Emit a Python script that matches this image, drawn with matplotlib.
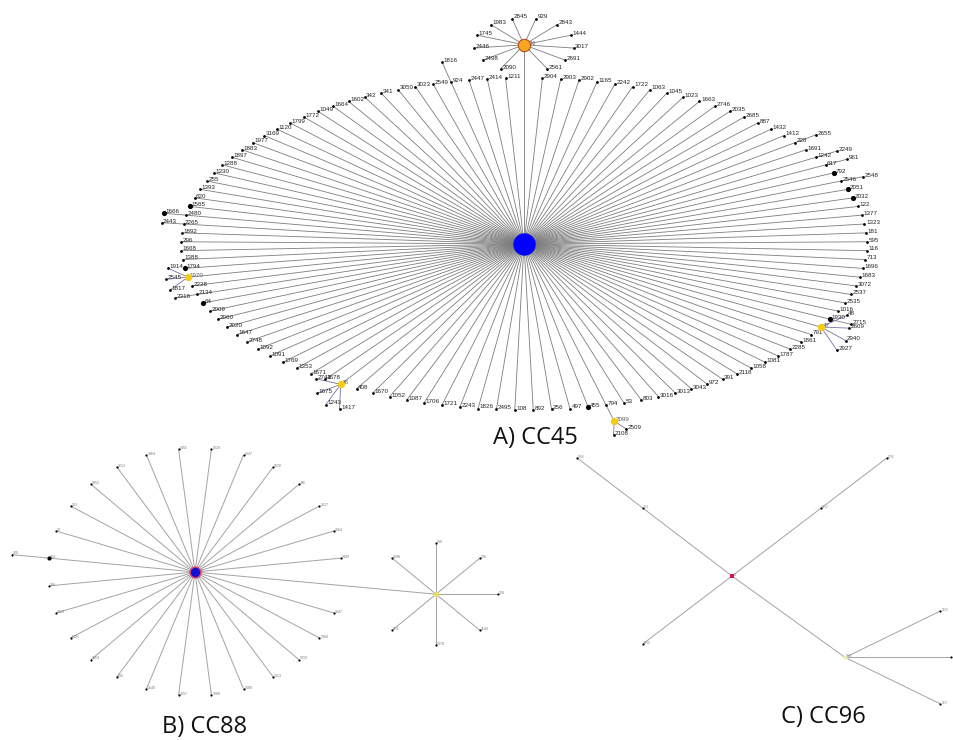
import numpy as np
import matplotlib.pyplot as plt
from matplotlib.collections import LineCollection

# ---- CC45: founder leaves, clockwise from the top (None = link to upper star)
cc45_leaves = [None, "2904", "2903", "2902", "1165", "2242", "1722", "1063", "1045",
               "1023", "1663", "2746", "2035", "2685", "887", "1432", "1412", "228",
               "1691", "1242", "617", "792", "2546", "2051", "2032", "122", "1377",
               "1323", "181", "595", "116", "713", "1696", "1683", "3072", "2537",
               "2535", "1016", "1930", "47", "791", "1861", "2285", "1787", "1081",
               "1058", "2118", "391", "972", "3043", "3013", "3016", "803", "53",
               "794", "455", "497", "256", "892", "108", "2495", "1826", "2243",
               "1721", "1706", "1087", "1052", "1670", "408", "46", "1678", "1671",
               "1353", "1769", "1091", "1092", "2748", "1647", "2020", "2060", "2009",
               "64", "2134", "2228", "1970", "1794", "1388", "1668", "296", "1892",
               "2265", "2480", "1565", "620", "1393", "255", "1330", "1288", "1897",
               "1883", "1977", "3169", "1120", "1799", "1772", "1049", "1664", "1602",
               "342", "341", "3050", "3023", "2549", "924", "2447", "2414", "1211"]
cc45_big = ["1666", "1565", "64", "1794", "792", "2051", "2032", "1930", "455"]
# child -> parent, drawn as a short extension outwards
cc45_chain = {"2655": "228", "2249": "1242", "961": "617", "2548": "2546",
              "1816": "924", "1666": "2480", "2443": "2265", "2715": "1930",
              "2316": "2134", "2099": "794"}
# yellow sub-founders and their leaves
cc45_fans = {"47": ["48", "2609", "2940", "2927"],
             "46": ["1417", "1243", "1675", "2741"],
             "1970": ["1817", "2545", "1914"],
             "2099": ["2509", "2108"]}
# upper (orange) star, clockwise from top (None = link down to founder)
cc45_top = ["929", "2843", "1444", "3017", "2691", "2561", None, "2090", "2498",
            "2446", "1745", "1983", "2845"]

# ---- CC88
cc88_leaves = ["1629", "2647", "1620", "446", "2627", "2564", "1449", None, "2647",
               "1360", "1219", "1313", "1589", "1289", "2157", "2149", "635", "2564",
               "1491", "2569", "226", "464", "32", "153", "1952", "2613", "1464", "1455"]
cc88_chain = {"229": "464"}
cc88_sub = ["150", "126", "128", "1140", "1279", "974", None, "2698"]

# ---- CC96
cc96_arms = ["1952", "2986", "2980", "174"]
cc96_chain = {"2030": "1952", "2588": "174"}
cc96_fan = ["2109", "2978", "2937"]

fig = plt.figure(figsize=(9.54, 7.40), dpi=100)
ax = fig.add_axes([0, 0, 1, 1])
ax.set_xlim(0, 954)
ax.set_ylim(740, 0)
ax.axis('off')


def ring(cx, cy, rx, ry, n, start):
    a = np.deg2rad(start - np.arange(n) * 360.0 / n)
    return cx + rx * np.cos(a), cy - ry * np.sin(a)


def outward(p, c, length):
    d = np.hypot(p[0] - c[0], p[1] - c[1])
    return (p[0] + (p[0] - c[0]) / d * length, p[1] + (p[1] - c[1]) / d * length)


def fan(p, c, n, length, spread, base=None):
    if base is None:
        base = np.degrees(np.arctan2(p[1] - c[1], p[0] - c[0]))
    angs = np.deg2rad(np.linspace(base - spread, base + spread, n))
    return [(p[0] + length * np.cos(a), p[1] + length * np.sin(a)) for a in angs]


def label(p, s, fs, color='#222222', dx=1.5):
    if p[0] > 948:
        return  # off the canvas in the original
    ax.text(p[0] + dx, p[1] + 0.8, s, fontsize=fs, color=color, ha='left',
            va='bottom', family='Liberation Sans')


# ================= CC45 =================
hub45 = (524, 244)
pos = {}
xs, ys = ring(hub45[0], hub45[1], 343, 166, len(cc45_leaves), 90)
for nm, x, y in zip(cc45_leaves, xs, ys):
    if nm is not None:
        pos[nm] = (x, y)
top_hub = (hub45[0], hub45[1] - 166 * 1.2)

segs45 = [[hub45, top_hub]] + [[hub45, pos[n]] for n in cc45_leaves if n]
for child, par in cc45_chain.items():
    pos[child] = outward(pos[par], hub45, 22 if child != "2099" else 18)
    segs45.append([pos[par], pos[child]])
fan_segs = []
fan_len = {"47": 28, "46": 25, "1970": 22, "2099": 14}
fan_spr = {"47": 40, "46": 50, "1970": 30, "2099": 30}
for par, kids in cc45_fans.items():
    pts = fan(pos[par], hub45, len(kids), fan_len[par], fan_spr[par])
    for k, p in zip(kids, pts):
        pos[k] = p
        fan_segs.append([pos[par], p])

txs, tys = ring(top_hub[0], top_hub[1], 50, 27, len(cc45_top), 76.15)
top_pos = {}
for nm, x, y in zip(cc45_top, txs, tys):
    if nm is not None:
        top_pos[nm] = (x, y)
        segs45.append([top_hub, (x, y)])

ax.add_collection(LineCollection(segs45, colors='#7d7d7d', linewidths=0.6, zorder=1))
ax.add_collection(LineCollection(fan_segs, colors='#7a70a8', linewidths=0.6, zorder=1))

subs = list(cc45_fans.keys())
for nm, p in pos.items():
    if nm in subs:
        continue
    size = 14 if nm in cc45_big else 4
    ax.scatter(*p, s=size, c='black', zorder=3, linewidths=0)
    label(p, nm, 4.5)
for nm in subs:
    ax.scatter(*pos[nm], s=28, c='#f2cc16', zorder=4, linewidths=0)
    label(pos[nm], nm, 4.5, color='#5a5a5a')
for nm, p in top_pos.items():
    ax.scatter(*p, s=4, c='black', zorder=3, linewidths=0)
    label(p, nm, 4.5)
ax.scatter(*top_hub, s=80, c='#f7a520', edgecolors='#b0502a', linewidths=0.8, zorder=4)
label(top_hub, "230", 3.5, color='#555555', dx=4)
ax.scatter(*hub45, s=260, c='#0000ff', zorder=5, linewidths=0)
label(hub45, "45", 3.5, color='#555555', dx=8)

# ================= CC88 =================
hub88 = (195, 572)
segs88 = []
xs, ys = ring(hub88[0], hub88[1], 147, 124, len(cc88_leaves), 90 - 180.0 / len(cc88_leaves))
pos88 = {}
sub88 = None
for nm, x, y in zip(cc88_leaves, xs, ys):
    if nm is None:
        sub88 = (hub88[0] + (x - hub88[0]) * 1.65, hub88[1] + (y - hub88[1]) * 1.6)
        segs88.append([hub88, sub88])
    else:
        segs88.append([hub88, (x, y)])
        ax.scatter(x, y, s=2.5, c='black', zorder=3, linewidths=0)
        label((x, y), nm, 2.6, color='#777777', dx=1)
        pos88[nm] = (x, y)
for child, par in cc88_chain.items():
    p = outward(pos88[par], hub88, 37)
    segs88.append([pos88[par], p])
    ax.scatter(*p, s=2.5, c='black', zorder=3, linewidths=0)
    label(p, child, 2.6, color='#777777', dx=1)
ax.scatter(*pos88["464"], s=9, c='black', zorder=3, linewidths=0)
sxs, sys_ = ring(sub88[0], sub88[1], 62, 51, len(cc88_sub), 90)
for nm, x, y in zip(cc88_sub, sxs, sys_):
    if nm is None:
        continue
    segs88.append([sub88, (x, y)])
    ax.scatter(x, y, s=2.5, c='black', zorder=3, linewidths=0)
    label((x, y), nm, 2.6, color='#777777', dx=1)
ax.add_collection(LineCollection(segs88, colors='#a3a3a3', linewidths=0.7, zorder=1))
ax.scatter(*hub88, s=60, c='#1010d0', edgecolors='#e0406a', linewidths=1.0, zorder=4)
label(hub88, "88", 2.6, color='#777777', dx=5)
ax.scatter(*sub88, s=14, c='#e9dc60', zorder=4, linewidths=0)

# ================= CC96 =================
hub96 = (732, 576)
segs96 = []
axs, ays = ring(hub96[0], hub96[1], 126, 96, len(cc96_arms), 45)
pos96 = {}
for nm, x, y in zip(cc96_arms, axs, ays):
    p = (x, y)
    if nm == "2986":
        p = (hub96[0] + (x - hub96[0]) * 1.27, hub96[1] + (y - hub96[1]) * 1.2)
    pos96[nm] = p
    segs96.append([hub96, p])
for child, par in cc96_chain.items():
    p = outward(pos96[par], hub96, 83)
    pos96[child] = p
    segs96.append([pos96[par], p])
for nm, p in zip(cc96_fan, fan(pos96["2986"], hub96, 3, 106, 26, base=0)):
    pos96[nm] = p
    segs96.append([pos96["2986"], p])
ax.add_collection(LineCollection(segs96, colors='#a3a3a3', linewidths=0.7, zorder=1))
for nm, p in pos96.items():
    if nm == "2986":
        ax.scatter(*p, s=10, c='#f0ecb0', zorder=4, linewidths=0)
    else:
        ax.scatter(*p, s=2.5, c='black', zorder=3, linewidths=0)
    label(p, nm, 2.2, color='#888888', dx=1)
ax.scatter(*hub96, s=12, c='#d6154a', marker='s', zorder=4, linewidths=0)
label(hub96, "96", 2.2, color='#888888', dx=2)

# ================= titles =================
for txt, xy in [("A) CC45", (535, 438)), ("B) CC88", (205, 727)), ("C) CC96", (823, 717))]:
    ax.text(xy[0], xy[1], txt, fontsize=17, family='Open Sans', ha='center',
            va='center', color='#111111')

fig.savefig('out.png', dpi=100)
